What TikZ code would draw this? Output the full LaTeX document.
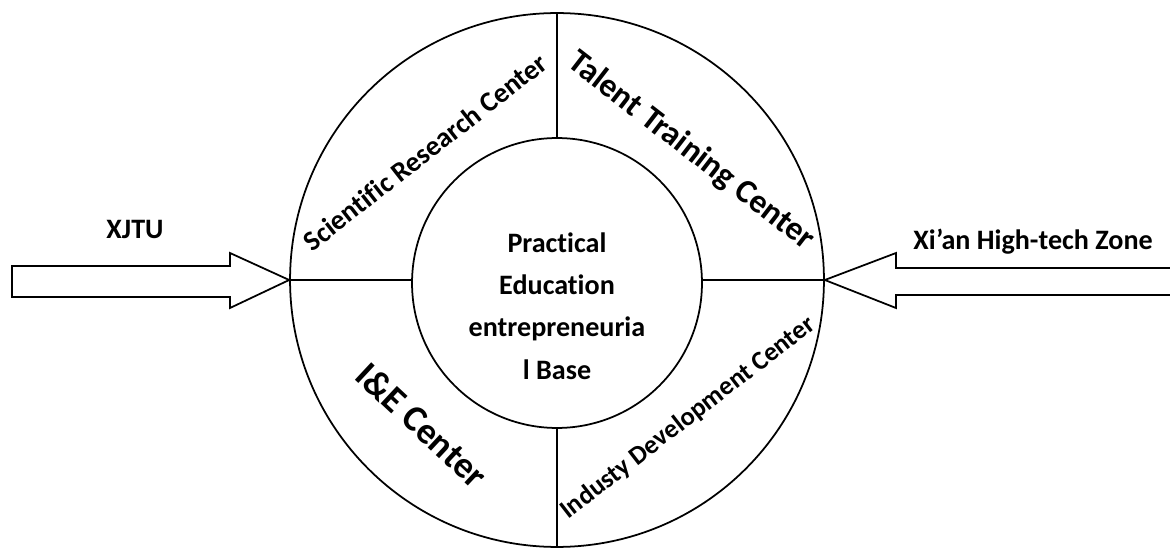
\documentclass[tikz,border=0pt]{standalone}
\usepackage{fontspec}
\setmainfont{Carlito}[Ligatures=NoCommon]
\tikzset{
  ring/.style={circle,draw,line width=1pt,inner sep=0pt},
  bigarrow/.style={draw,line width=1pt,line join=miter},
  source/.style={font=\bfseries\fontsize{16}{24}\selectfont},
  sector/.style={inner sep=0pt,font=\bfseries\fontsize{#1}{#1}\selectfont},
}
\begin{document}
\begin{tikzpicture}[x=0.02cm,y=0.02cm]
\useasboundingbox (0,0) rectangle (1170,548);

\node (outer) at (557,268)[ring,minimum size=10.68cm]{};
\node (inner) at (557,265)[ring,minimum size=5.8cm]{};

\draw[line width=1pt] (outer.north) -- (inner.north);
\draw[line width=1pt] (inner.south) -- (outer.south);
\draw[line width=1pt] (outer.west) -- (outer.west -| inner.west);
\draw[line width=1pt] (outer.east -| inner.east) -- (outer.east);

\draw[bigarrow] (outer.west) -- (230,295) -- (230,282) -- (12,282) -- (12,251) -- (230,251) -- (230,240) -- cycle;
\draw[bigarrow] (1172,280) -- (896,280) -- (896,295) -- (outer.east) -- (896,240) -- (896,253) -- (1172,253);

\node (xjtu) at (135,319)[source]{XJTU};
\node (hightech) at (1033,306)[source]{Xi’an High-tech Zone};

\node (base) at (557,242)[source,align=center]{Practical\\Education\\entrepreneuria\\l Base};

\node (research) at (425,396)[sector=16,rotate=38]{Scientific Research Center};
\node (talent) at (691,397)[sector=19,rotate=-37.7]{Talent Training Center};
\node (ie) at (422,123)[sector=21,rotate=-43]{I\&E Center};
\node (industry) at (688,130)[sector=15,rotate=37.7]{Industy Development Center};
\end{tikzpicture}
\end{document}
